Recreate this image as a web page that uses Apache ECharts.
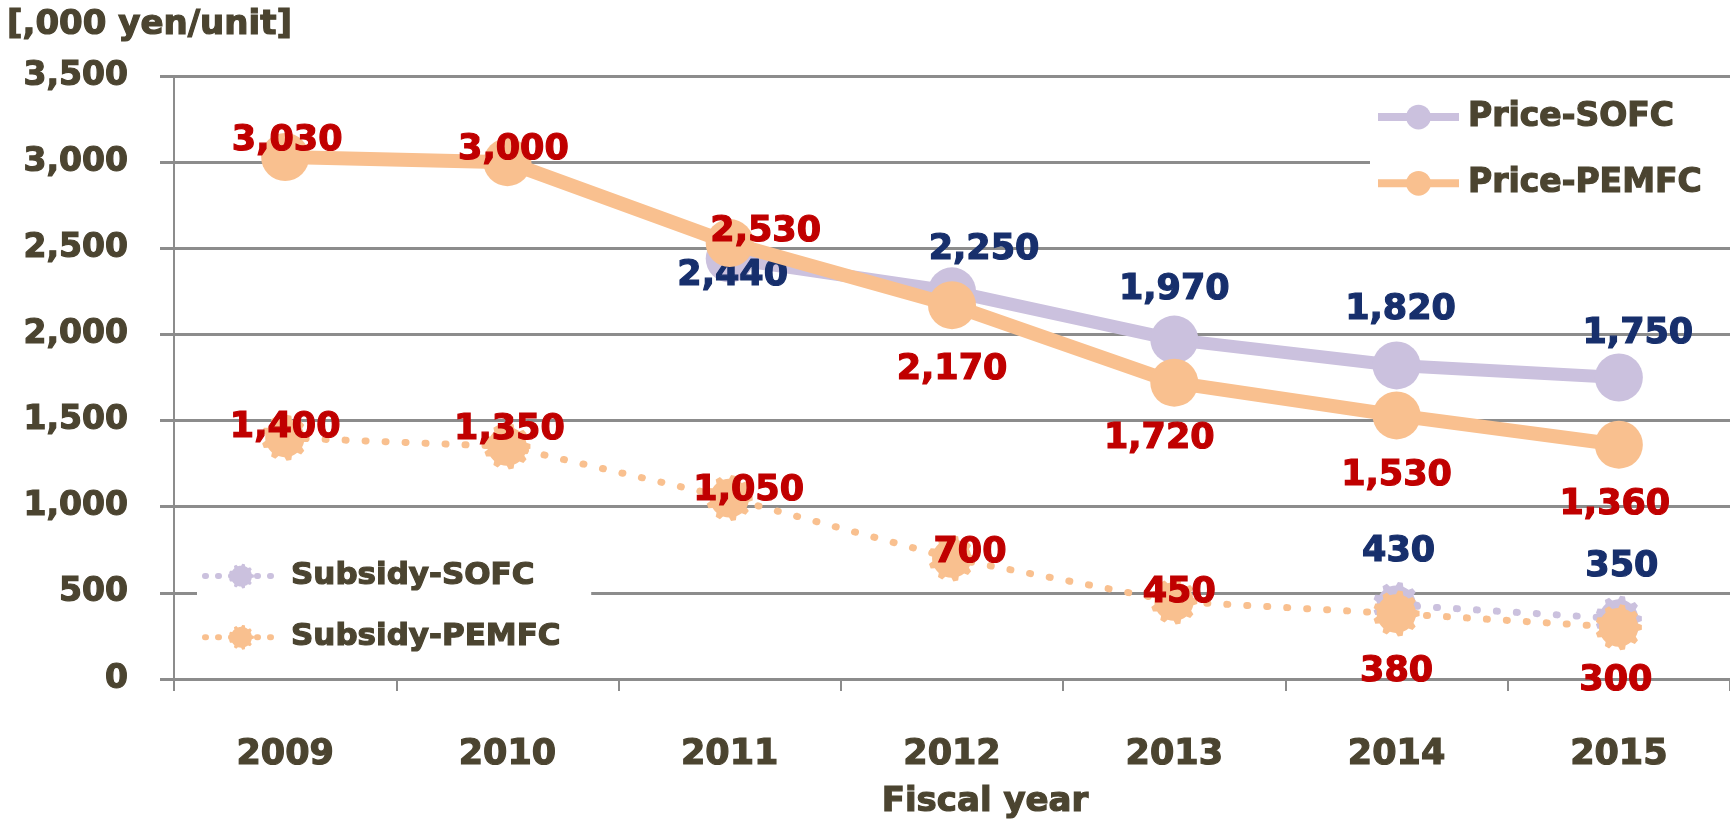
<!DOCTYPE html>
<html>
<head>
<meta charset="utf-8">
<script src="https://cdn.jsdelivr.net/npm/echarts@6/dist/echarts.min.js"></script>
<style>
html,body{margin:0;padding:0;background:#fff;}
#chart{width:1730px;height:819px;}
</style>
</head>
<body>
<div id="chart"></div>
<script>
// ---- data ----
var categories = ['2009', '2010', '2011', '2012', '2013', '2014', '2015'];
var priceSOFC = [null, null, 2440, 2250, 1970, 1820, 1750];
var pricePEMFC = [3030, 3000, 2530, 2170, 1720, 1530, 1360];
var subsidySOFC = [null, null, null, null, null, 430, 350];
var subsidyPEMFC = [1400, 1350, 1050, 700, 450, 380, 300];
var yTicks = [0, 500, 1000, 1500, 2000, 2500, 3000, 3500];

// ---- label offsets (style only) ----
var offPriceSOFC = [null, null, [3, 17], [32, -41], [0, -50], [4, -56], [19, -44]];
var offPricePEMFC = [[2, -16], [6, -12], [36, -11], [0, 65], [-15, 56], [0, 61], [-4, 60]];
var offSubSOFC = [null, null, null, null, null, [2, -53], [3, -52]];
var offSubPEMFC = [[0, -10], [2, -17], [19, -7], [18, -5], [5, -9], [0, 58], [-3, 54]];

var FONT = 'DejaVu Sans';
var TXT = '#4b4430';
var RED = '#c00000';
var NAVY = '#172f6c';
var ORANGE = '#f9c08f';
var LAV = '#cbc1de';
var GRID = '#8c8c8c';

function gearPath() {
  var n = 9, pts = [];
  for (var k = 0; k < n; k++) {
    var a = k * 2 * Math.PI / n;
    var w = Math.PI / n;
    var seq = [[a - w * 0.55, 42], [a - w * 0.3, 50], [a + w * 0.3, 50], [a + w * 0.55, 42], [a + w, 42]];
    seq.forEach(function (s) {
      pts.push([50 + s[1] * Math.cos(s[0]), 50 + s[1] * Math.sin(s[0])]);
    });
  }
  return 'path://M' + pts.map(function (p) { return p[0].toFixed(2) + ',' + p[1].toFixed(2); }).join('L') + 'Z';
}
var GEAR = gearPath();

function txt(size, color) {
  return {fontFamily: FONT, fontWeight: 'bold', fontSize: size, color: color,
          textBorderColor: color, textBorderWidth: 1.2};
}

function build(values, offs, color) {
  return values.map(function (v, i) {
    if (v == null) return null;
    return {
      value: v,
      label: Object.assign({
        show: true,
        position: 'inside',
        offset: offs[i],
        formatter: function (p) { return p.value.toLocaleString('en-US'); }
      }, txt(35, color))
    };
  });
}

var chart = echarts.init(document.getElementById('chart'), null, {renderer: 'canvas'});
var option = {
  animation: false,
  backgroundColor: '#fff',
  title: {
    text: '[,000 yen/unit]',
    left: 2, top: 3,
    textStyle: txt(34, TXT)
  },
  grid: {left: 174, right: 0, top: 76, bottom: 140, containLabel: false, outerBoundsMode: 'none'},
  legend: [
    {
      data: ['Price-SOFC', 'Price-PEMFC'],
      orient: 'vertical',
      left: 1370, top: 85,
      padding: [15, 80, 18, 4],
      backgroundColor: '#fff',
      itemWidth: 81, itemHeight: 31, itemGap: 32,
      lineStyle: {width: 8},
      textStyle: Object.assign(txt(33, TXT), {lineHeight: 31, padding: [0, 0, 0, 4]})
    },
    {
      data: ['Subsidy-SOFC', 'Subsidy-PEMFC'],
      orient: 'vertical',
      left: 197, top: 546,
      padding: [14, 30, 14, 5],
      backgroundColor: '#fff',
      itemWidth: 73, itemHeight: 31, itemGap: 29,
      lineStyle: {width: 6, type: [1, 12], cap: 'round'},
      textStyle: Object.assign(txt(31, TXT), {lineHeight: 31, padding: [0, 0, 0, 8]})
    }
  ],
  xAxis: {
    type: 'category',
    data: categories,
    boundaryGap: true,
    axisLine: {show: true, lineStyle: {color: GRID, width: 3}},
    axisTick: {show: true, length: 12, lineStyle: {color: GRID, width: 2}},
    axisLabel: Object.assign({margin: 58}, txt(35, TXT)),
    name: 'Fiscal year',
    nameLocation: 'middle',
    nameGap: 106,
    nameTextStyle: Object.assign(txt(34, TXT), {padding: [0, 0, 0, 66]})
  },
  yAxis: {
    type: 'value',
    min: 0, max: 3500, interval: 500,
    axisLine: {show: true, lineStyle: {color: GRID, width: 2}},
    axisTick: {show: true, length: 14, lineStyle: {color: GRID, width: 3}},
    splitLine: {show: true, lineStyle: {color: GRID, width: 3}},
    axisLabel: Object.assign({
      margin: 46,
      formatter: function (v) { return yTicks.indexOf(v) >= 0 ? v.toLocaleString('en-US') : ''; }
    }, txt(33, TXT))
  },
  series: [
    {
      name: 'Subsidy-SOFC', type: 'line', data: build(subsidySOFC, offSubSOFC, NAVY),
      symbol: GEAR, symbolSize: 46, z: 2,
      itemStyle: {color: LAV},
      lineStyle: {color: LAV, width: 7, type: [1, 19], cap: 'round'}
    },
    {
      name: 'Subsidy-PEMFC', type: 'line', data: build(subsidyPEMFC, offSubPEMFC, RED),
      symbol: GEAR, symbolSize: 46, z: 3,
      itemStyle: {color: ORANGE},
      lineStyle: {color: ORANGE, width: 7, type: [1, 19], cap: 'round'}
    },
    {
      name: 'Price-SOFC', type: 'line', data: build(priceSOFC, offPriceSOFC, NAVY),
      symbol: 'circle', symbolSize: 48, z: 4,
      itemStyle: {color: LAV},
      lineStyle: {color: LAV, width: 13}
    },
    {
      name: 'Price-PEMFC', type: 'line', data: build(pricePEMFC, offPricePEMFC, RED),
      symbol: 'circle', symbolSize: 48, z: 5,
      itemStyle: {color: ORANGE},
      lineStyle: {color: ORANGE, width: 14}
    }
  ]
};
chart.setOption(option);
</script>
</body>
</html>
